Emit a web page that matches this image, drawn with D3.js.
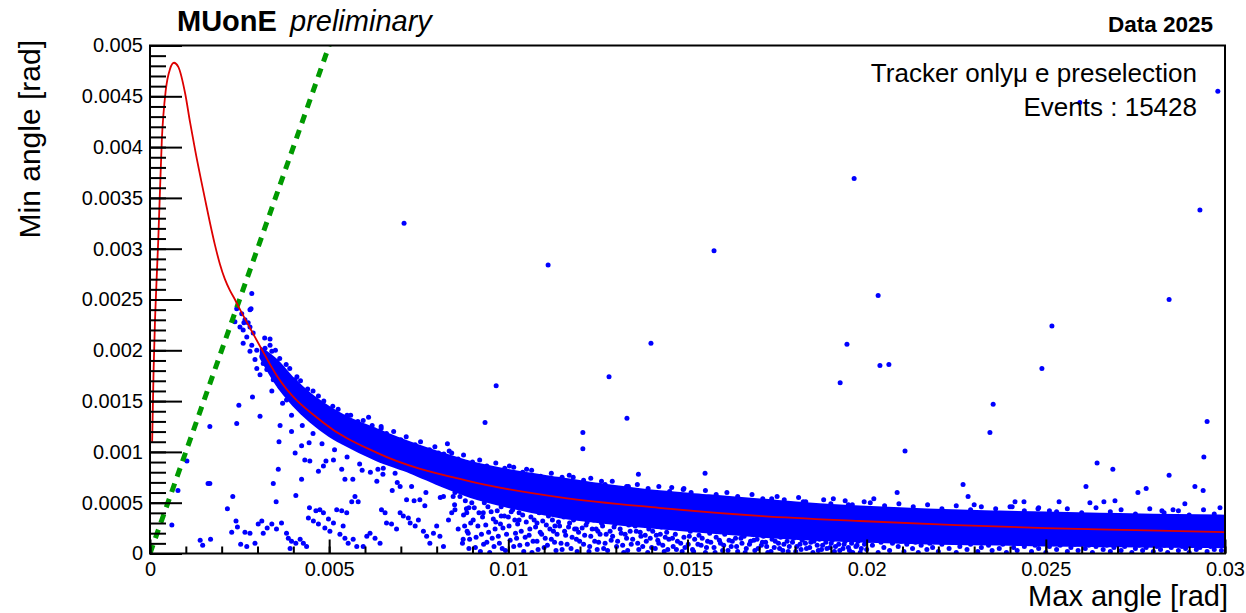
<!DOCTYPE html>
<html><head><meta charset="utf-8">
<script src="https://cdn.jsdelivr.net/npm/d3@7"></script>
<style>body{margin:0;background:#fff}svg{display:block}</style>
</head><body><svg id="c" width="1246" height="613"></svg>
<script>
// ---- data (angles in mrad unless noted; MRAD converts to rad) ----
const MRAD = 1e-3;
const xTickValues = [0, 0.005, 0.01, 0.015, 0.02, 0.025, 0.03];
const xTickLabels = ["0", "0.005", "0.01", "0.015", "0.02", "0.025", "0.03"];
const yTickValues = [0, 0.0005, 0.001, 0.0015, 0.002, 0.0025, 0.003, 0.0035, 0.004, 0.0045, 0.005];
const yTickLabels = ["0", "0.0005", "0.001", "0.0015", "0.002", "0.0025", "0.003", "0.0035", "0.004", "0.0045", "0.005"];

// elastic-scattering correlation curve (red)
const curvePts = [[0.06,1.10],[0.10,1.80],[0.14,2.30],[0.18,2.66],[0.23,3.08],[0.33,4.07],[0.44,4.56],[0.56,4.77],[0.67,4.83],[0.79,4.79],[0.98,4.53],[1.12,4.24],[1.26,3.97],[1.54,3.48],[1.67,3.26],[1.81,3.04],[1.95,2.85],[2.09,2.70],[2.23,2.59],[2.37,2.50],[2.47,2.43],[2.79,2.22],[3.07,2.04],[3.54,1.75],[4.83,1.29],[6.34,0.99],[8.93,0.71],[11.5,0.55],[14.2,0.45],[17.0,0.37],[19.8,0.32],[22.5,0.28],[25.0,0.25],[27.5,0.23],[30.0,0.21]];
// theta_min = theta_max line (green)
const diagPts = [[0,0],[5,5]];

// dense band of events: x, upper edge, lower edge
const bandX  = [3.1, 3.54, 4.0, 4.47, 5.0, 5.39, 6.33, 7.26, 8.18, 8.93, 10.0, 11.44, 12.8, 14.23, 15.6, 17.02, 18.4, 19.81, 21.7, 23.72, 25.0, 26.51, 28.0, 30.0];
const bandHi = [2.02, 1.90, 1.72, 1.57, 1.44, 1.36, 1.22, 1.09, 0.98, 0.90, 0.82, 0.74, 0.67, 0.61, 0.57, 0.53, 0.49, 0.46, 0.43, 0.41, 0.40, 0.39, 0.38, 0.37];
const bandLo = [1.92, 1.66, 1.46, 1.30, 1.16, 1.08, 0.92, 0.80, 0.66, 0.56, 0.46, 0.36, 0.30, 0.25, 0.21, 0.17, 0.14, 0.12, 0.10, 0.09, 0.08, 0.075, 0.07, 0.065];

const outlierPts = [[7.09,3.25],[11.11,2.84],[15.74,2.98],[19.65,3.69],[29.3,3.38],[29.8,4.55],[25.95,4.44],[20.32,2.54],[28.44,2.50],[25.17,2.24],[13.98,2.07],[19.45,2.06],[20.37,1.85],[20.62,1.86],[24.89,1.82],[12.81,1.74],[19.26,1.68],[9.66,1.65],[23.53,1.47],[13.31,1.33],[9.35,1.29],[29.5,1.30],[23.44,1.19],[12.08,1.19],[12.08,1.03],[21.07,1.01],[20.85,0.60],[22.69,0.68],[22.83,0.56],[23.0,0.48],[26.12,0.66],[26.43,0.89],[26.87,0.83],[28.44,0.77],[27.57,0.60],[27.80,0.64],[29.16,0.66],[29.39,0.62],[29.41,0.95],[29.86,0.45]];

const aboveBandPts = [[10.03,0.86],[10.51,0.83],[11.81,0.75],[12.6,0.71],[13.63,0.78],[13.35,0.66],[14.56,0.65],[14.88,0.63],[15.49,0.79],[17.35,0.54],[18.23,0.51],[19.07,0.54],[19.49,0.48],[19.93,0.51],[20.2,0.54],[24.14,0.51],[24.39,0.51],[25.37,0.51],[26.23,0.50],[26.62,0.51],[26.93,0.52],[28.88,0.49],[24.06,0.46],[24.78,0.44],[25.1,0.42],[28.24,0.42],[28.55,0.43],[6.45,1.23],[8.30,1.08],[7.16,1.06],[8.42,0.99],[8.05,0.99]];

const bandEdgePts = [[3.2,2.12],[3.5,2.0],[3.8,1.86],[4.1,1.74],[4.4,1.62],[4.7,1.55],[5.1,1.45],[5.5,1.36],[5.8,1.30],[6.2,1.26],[6.6,1.18],[7.0,1.12],[7.4,1.07],[7.8,1.02],[8.2,0.98],[8.6,0.93],[9.0,0.90],[9.4,0.86],[9.9,0.84],[10.4,0.80],[10.9,0.76],[11.5,0.75],[12.1,0.72],[12.7,0.68],[13.3,0.66],[13.9,0.64],[14.5,0.61],[15.1,0.60],[15.8,0.58],[16.4,0.56],[17.1,0.54],[17.7,0.53],[18.3,0.51],[19.0,0.49],[19.6,0.48],[20.5,0.47],[21.3,0.46],[22.1,0.44],[22.9,0.43],[23.6,0.44],[24.4,0.42],[25.3,0.41],[26.0,0.40],[26.8,0.41],[27.5,0.39],[28.3,0.40],[29.0,0.38],[29.7,0.39]];

const bandFuzzHiPts = [[3.35,2.05],[3.62,1.92],[3.9,1.82],[4.2,1.70],[4.55,1.60],[4.85,1.50],[5.25,1.42],[5.6,1.36],[5.95,1.31],[6.1,1.34],[6.45,1.25],[6.8,1.20],[7.15,1.15],[7.55,1.10],[7.95,1.05],[8.35,1.01],[8.75,0.97],[9.2,0.92],[9.65,0.89],[10.15,0.85],[10.65,0.82],[11.2,0.79],[11.7,0.77],[12.3,0.74],[12.9,0.71],[13.6,0.68],[14.2,0.66],[14.9,0.64],[15.5,0.62],[16.1,0.60],[16.8,0.58],[17.5,0.56],[18.1,0.55],[18.8,0.53],[19.4,0.52],[20.1,0.50],[20.9,0.49],[21.7,0.48],[22.5,0.47],[23.2,0.46],[24.0,0.46],[24.8,0.45],[25.6,0.44],[26.4,0.45],[27.1,0.43],[27.9,0.44],[28.7,0.42],[29.4,0.43]];

const bandFuzzLoPts = [[3.4,1.60],[3.7,1.48],[3.95,1.36],[4.25,1.26],[4.55,1.18],[4.8,1.08],[5.15,1.02],[5.5,0.95],[5.85,0.88],[6.15,0.80],[6.5,0.78],[6.9,0.70],[7.3,0.66],[7.7,0.60],[8.1,0.55],[8.5,0.48],[8.9,0.45],[9.3,0.40],[9.8,0.37],[10.3,0.33],[10.8,0.30],[11.3,0.27],[11.9,0.24],[12.5,0.22]];

const bandStartPts = [[2.42,2.41],[2.56,2.36],[2.65,2.30],[2.74,2.27],[2.60,2.20],[2.79,2.23],[2.70,2.13],[2.88,2.17],[2.60,2.07],[2.84,2.05],[2.98,2.00],[2.79,1.99],[2.93,1.91],[2.98,1.82],[3.16,1.87],[3.26,1.81],[3.07,1.76],[3.44,1.71],[3.63,1.64],[3.81,1.51],[4.05,1.71],[3.53,1.89],[3.40,1.99],[3.21,2.02],[2.37,2.28],[2.51,2.23],[3.12,1.94],[2.84,2.56],[2.79,2.40],[3.35,2.11],[2.82,2.41],[2.62,2.27]];

const lowLeftPts = [[2.86,1.54],[2.48,1.46],[3.07,1.35],[2.42,1.28],[1.67,1.25],[3.63,1.26],[3.60,1.10],[3.95,1.20],[4.05,0.99],[4.23,1.06],[4.44,1.09],[4.32,0.92],[4.46,0.91],[4.70,0.81],[4.91,0.91],[4.84,0.86],[5.12,0.92],[5.35,0.83],[5.44,0.73],[5.66,0.73],[5.92,0.82],[6.36,0.83],[6.33,0.71],[6.84,0.79],[6.76,0.62],[3.58,0.83],[3.44,0.69],[4.23,0.73],[4.07,0.57],[3.52,0.51],[2.31,0.56],[2.16,0.44],[1.67,0.69],[1.03,0.91],[0.78,0.62],[1.62,0.69],[0.61,0.28],[1.40,0.13],[1.47,0.08],[1.69,0.14],
[2.40,0.32],[2.44,0.26],[2.28,0.21],[2.65,0.21],[2.79,0.20],[2.53,0.09],[2.70,0.07],[2.93,0.10],[3.12,0.32],[3.02,0.29],[3.16,0.20],[3.27,0.25],[3.40,0.29],[3.53,0.24],[3.67,0.30],[3.81,0.20],[3.86,0.15],[3.95,0.12],[4.07,0.10],[4.19,0.14],[4.28,0.10],[4.37,0.07],[3.91,0.05],[4.45,0.45],[4.63,0.42],[4.74,0.43],[4.84,0.40],[4.42,0.35],[4.56,0.32],[4.70,0.29],[4.88,0.25],[5.02,0.22],[4.98,0.34],[5.12,0.30],[5.21,0.43],[5.35,0.42],[5.49,0.40],[5.63,0.51],[5.72,0.56],[5.81,0.51],[5.39,0.27],[5.30,0.19],[5.44,0.15],[5.53,0.10],[5.67,0.14],[5.77,0.07],[5.95,0.07],[6.05,0.17],[6.14,0.20],[6.28,0.15],[6.42,0.10],[6.46,0.43],[6.56,0.40],[6.60,0.30],[6.74,0.29],[6.88,0.24],[6.98,0.40],[7.07,0.37],[7.21,0.35],[7.26,0.30],[7.40,0.27],[7.49,0.33],[7.63,0.22],[7.72,0.17],[7.81,0.10],[7.91,0.20],[8.00,0.27],[8.09,0.17],[8.19,0.07],[8.33,0.33],[8.42,0.40],[8.51,0.43],[8.60,0.24],[8.74,0.14],[8.84,0.40],[8.88,0.20],[7.37,0.52],[7.53,0.53],[7.67,0.47],[7.16,0.53],[6.98,0.66],[6.51,0.84],[8.19,0.69],[8.46,0.56],[8.65,0.56],[8.74,0.66],[8.51,0.60],[8.19,0.56]];

const lowMidPts = [[8.72,0.10],[8.75,0.38],[8.8,0.52],[8.85,0.22],[8.9,0.05],[8.95,0.30],[9.05,0.45],[9.1,0.16],[9.15,0.27],[9.22,0.02],[9.28,0.36],[9.33,0.50],[9.4,0.11],[9.45,0.21],[9.52,0.41],[9.6,0.07],[9.65,0.31],[9.72,0.17],[9.8,0.46],[9.85,0.25],[9.92,0.03],[10.0,0.36],[10.05,0.13],[10.12,0.43],[10.2,0.20],[10.26,0.29],[10.32,0.08],[10.4,0.38],[10.47,0.16],[10.55,0.44],[10.6,0.24],[10.66,0.01],[10.72,0.33],[10.8,0.12],[10.86,0.40],[10.93,0.19],[11.0,0.06],[11.06,0.28],[11.12,0.37],[11.2,0.14],[11.26,0.22],[11.33,0.03],[11.4,0.31],[11.47,0.10],[11.55,0.36],[11.6,0.18],[11.68,0.26],[11.75,0.05],[11.82,0.33],[11.9,0.14],[11.96,0.21],[12.03,0.37],[12.1,0.09],[12.17,0.28],[12.25,0.02],[12.3,0.17],[12.38,0.33],[12.45,0.24],[12.52,0.11],[12.6,0.30],[12.66,0.05],[12.73,0.19],[12.8,0.34],[12.87,0.13],[12.95,0.26],[13.02,0.07],[13.08,0.31],[13.15,0.20],[13.22,0.01],[13.3,0.15],[13.36,0.28],[13.43,0.09],[13.5,0.33],[13.57,0.22],[13.64,0.04],[13.7,0.17],[13.78,0.29],[13.85,0.12],[13.92,0.24],[14.0,0.06],[14.06,0.31],[14.13,0.18],[14.2,0.10],[14.27,0.26],[14.35,0.02],[14.42,0.21],[14.48,0.14],
[14.55,0.29],[14.6,0.07],[14.66,0.19],[14.72,0.12],[14.78,0.25],[14.85,0.02],[14.9,0.16],[14.96,0.30],[15.02,0.09],[15.08,0.22],[15.14,0.04],[15.2,0.14],[15.26,0.27],[15.32,0.18],[15.38,0.08],[15.44,0.24],[15.5,0.01],[15.56,0.12],[15.62,0.20],[15.68,0.28],[15.74,0.06],[15.8,0.16],[15.86,0.23],[15.92,0.10],[15.98,0.03],[16.04,0.19],[16.1,0.26],[16.16,0.13],[16.22,0.07],[16.28,0.21],[16.34,0.15],[16.4,0.02],[16.46,0.24],[16.52,0.10],[16.58,0.17],[16.64,0.05],[16.7,0.22],[16.76,0.12],[16.82,0.19],[16.88,0.03],[16.94,0.14],[17.0,0.23],[17.06,0.08],[17.12,0.17],[17.18,0.11],[17.24,0.01],[17.3,0.20],[17.36,0.14],[17.42,0.06],[17.48,0.22],[17.54,0.10],[17.6,0.16],[17.66,0.03],[17.72,0.19],[17.78,0.12],[17.84,0.07],[17.9,0.21],[17.96,0.15],[18.02,0.02],[18.08,0.18],[18.14,0.09],[18.2,0.13],[18.26,0.20],[18.32,0.05],[18.38,0.16],[18.44,0.11],[18.5,0.01],[18.56,0.18],[18.62,0.08],[18.68,0.14],[18.74,0.04],[18.8,0.19],[18.86,0.11],[18.92,0.16],[18.98,0.06],[19.04,0.13],[19.1,0.02],[19.16,0.18],[19.22,0.09],[19.28,0.15],[19.34,0.05],[19.4,0.12],[19.46,0.17],[19.52,0.03],[19.58,0.10],[19.64,0.15],[19.7,0.07],[19.76,0.12],[19.82,0.01],[19.88,0.16],[19.94,0.09]];

const lowMid2Pts = [[8.78,0.27],[8.83,0.44],[8.92,0.14],[8.98,0.50],[9.02,0.33],[9.08,0.06],[9.18,0.40],[9.25,0.19],[9.31,0.09],[9.37,0.28],[9.43,0.46],[9.48,0.01],[9.55,0.15],[9.58,0.34],[9.63,0.24],[9.69,0.42],[9.75,0.10],[9.78,0.29],[9.83,0.05],[9.89,0.37],[9.95,0.19],[10.02,0.27],[10.08,0.41],[10.15,0.07],[10.18,0.33],[10.23,0.15],[10.3,0.40],[10.36,0.22],[10.43,0.02],[10.5,0.31],[10.53,0.09],[10.58,0.18],[10.63,0.36],[10.69,0.12],[10.76,0.26],[10.83,0.04],[10.89,0.21],[10.96,0.32],[11.03,0.15],[11.09,0.08],[11.16,0.24],[11.23,0.33],[11.29,0.11],[11.36,0.19],[11.43,0.27],[11.5,0.04],[11.57,0.22],[11.64,0.09],[11.71,0.30],[11.78,0.16],[11.85,0.24],[11.92,0.02],[11.99,0.12],[12.06,0.25],[12.13,0.18],[12.2,0.31],[12.27,0.07],[12.34,0.24],[12.41,0.12],[12.48,0.04],[12.56,0.19],[12.63,0.27],[12.7,0.10],[12.77,0.03],[12.84,0.22],[12.91,0.17],[12.98,0.29],[13.05,0.12],[13.12,0.24],[13.19,0.08],[13.26,0.19],[13.33,0.03],[13.4,0.22],[13.47,0.14],[13.54,0.27],[13.61,0.10],[13.68,0.21],[13.75,0.07],[13.82,0.18],[13.89,0.01],[13.96,0.15],[14.03,0.22],[14.1,0.05],[14.17,0.13],[14.24,0.19],[14.31,0.08],[14.38,0.16],[14.45,0.04],
[14.58,0.15],[14.69,0.04],[14.81,0.10],[14.93,0.06],[15.05,0.17],[15.17,0.02],[15.29,0.09],[15.41,0.15],[15.53,0.06],[15.65,0.11],[15.77,0.01],[15.89,0.13],[16.01,0.08],[16.13,0.03],[16.25,0.12],[16.37,0.07],[16.49,0.15],[16.61,0.01],[16.73,0.09],[16.85,0.13],[16.97,0.05],[17.09,0.11],[17.21,0.07],[17.33,0.02],[17.45,0.12],[17.57,0.05],[17.69,0.09],[17.81,0.02],[17.93,0.11],[18.05,0.07],[18.17,0.04],[18.29,0.10],[18.41,0.06],[18.53,0.12],[18.65,0.03],[18.77,0.08],[18.89,0.05],[19.01,0.10],[19.13,0.07],[19.25,0.03],[19.37,0.09],[19.49,0.06],[19.61,0.01],[19.73,0.08],[19.85,0.05],[19.97,0.11]];

const lowRightPts = [[20.0,0.04],[20.08,0.13],[20.16,0.08],[20.24,0.16],[20.32,0.01],[20.4,0.11],[20.48,0.06],[20.56,0.14],[20.64,0.03],[20.72,0.10],[20.8,0.15],[20.88,0.07],[20.96,0.12],[21.04,0.02],[21.12,0.09],[21.2,0.14],[21.28,0.05],[21.36,0.11],[21.44,0.01],[21.52,0.08],[21.6,0.13],[21.68,0.04],[21.76,0.10],[21.84,0.06],[21.92,0.12],[22.0,0.02],[22.1,0.09],[22.2,0.13],[22.3,0.05],[22.4,0.11],[22.5,0.01],[22.6,0.07],[22.7,0.12],[22.8,0.04],[22.9,0.09],[23.0,0.13],[23.1,0.02],[23.2,0.06],[23.3,0.11],[23.4,0.08],[23.5,0.03],[23.6,0.12],[23.7,0.05],[23.8,0.09],[23.9,0.01],[24.0,0.11],[24.1,0.06],[24.2,0.03],[24.3,0.10],[24.4,0.07],[24.5,0.12],[24.6,0.02],[24.7,0.08],[24.8,0.05],[24.9,0.11],[25.0,0.01],[25.1,0.07],[25.2,0.10],[25.3,0.04],[25.4,0.08],[25.5,0.11],[25.6,0.02],[25.7,0.06],[25.8,0.09],[25.9,0.03],[26.0,0.10],[26.1,0.05],[26.2,0.08],[26.3,0.01],[26.4,0.07],[26.5,0.10],[26.6,0.04],[26.7,0.08],[26.8,0.02],[26.9,0.06],[27.0,0.09],[27.1,0.03],[27.2,0.07],[27.3,0.10],[27.4,0.01],[27.5,0.05],[27.6,0.08],[27.7,0.03],[27.8,0.06],[27.9,0.09],[28.0,0.02],[28.1,0.07],[28.2,0.04],[28.3,0.08],[28.4,0.01],[28.5,0.06],[28.6,0.09],[28.7,0.03],[28.8,0.07],[28.9,0.05],[29.0,0.01],[29.1,0.08],[29.2,0.04],[29.3,0.06],[29.4,0.09],[29.5,0.02],[29.6,0.07],[29.7,0.04],[29.8,0.08],[29.9,0.03]];

const legendLines = ["Tracker only\u03bc e preselection", "Events : 15428"];

// ---- drawing ----
const FONT = "'Liberation Sans', Arial, Helvetica, sans-serif";
const svg = d3.select("#c");
const L = 150, R = 1225, T = 45.5, B = 553.5;
const x = d3.scaleLinear().domain([0, 0.03]).range([L, R]);
const y = d3.scaleLinear().domain([0, 0.005]).range([B, T]);

svg.append("defs").append("clipPath").attr("id", "clip")
  .append("rect").attr("x", L).attr("y", T).attr("width", R - L).attr("height", B - T);
const plot = svg.append("g").attr("clip-path", "url(#clip)");
const BLUE = "#0000ff";

// dense band
const band = bandX.map((v, i) => [v, bandHi[i], bandLo[i]]);
plot.append("path").datum(band)
  .attr("d", d3.area().x(d => x(d[0] * MRAD)).y0(d => y(d[2] * MRAD)).y1(d => y(d[1] * MRAD)).curve(d3.curveMonotoneX))
  .attr("fill", BLUE).attr("stroke", BLUE).attr("stroke-width", 2.5).attr("stroke-linejoin", "round");

const allPts = [].concat(outlierPts, aboveBandPts, bandEdgePts, bandFuzzHiPts, bandFuzzLoPts, bandStartPts, lowLeftPts, lowMidPts, lowMid2Pts, lowRightPts);
plot.append("g").selectAll("circle").data(allPts).join("circle")
  .attr("cx", d => x(d[0] * MRAD)).attr("cy", d => y(d[1] * MRAD)).attr("r", 2.5).attr("fill", BLUE);

// green diagonal
plot.append("path").datum(diagPts)
  .attr("d", d3.line().x(d => x(d[0] * MRAD)).y(d => y(d[1] * MRAD)))
  .attr("fill", "none").attr("stroke", "#009a00").attr("stroke-width", 5).attr("stroke-dasharray", "9,7.3");

// red curve
plot.append("path").datum(curvePts)
  .attr("d", d3.line().x(d => x(d[0] * MRAD)).y(d => y(d[1] * MRAD)).curve(d3.curveMonotoneX))
  .attr("fill", "none").attr("stroke", "#dd0000").attr("stroke-width", 1.8);

// axes
function styleAxis(g) {
  g.select(".domain").remove();
  g.selectAll("line").attr("stroke", "#000").attr("stroke-width", 2);
  g.selectAll("text").attr("font-family", FONT).attr("font-size", 20).attr("fill", "#000");
}
const xMinor = d3.range(0, 31).map(i => i * 0.001);
const yMinor = d3.range(0, 51).map(i => i * 0.0001);
svg.append("g").attr("transform", `translate(0,${B})`)
  .call(d3.axisBottom(x).tickValues(xMinor).tickSize(-7).tickFormat(""))
  .call(styleAxis);
svg.append("g").attr("transform", `translate(0,${B})`)
  .call(d3.axisBottom(x).tickValues(xTickValues).tickSize(-14).tickPadding(8).tickFormat((d, i) => xTickLabels[i]))
  .call(styleAxis);
svg.append("g").attr("transform", `translate(${L},0)`)
  .call(d3.axisLeft(y).tickValues(yMinor).tickSize(-16).tickFormat(""))
  .call(styleAxis);
svg.append("g").attr("transform", `translate(${L},0)`)
  .call(d3.axisLeft(y).tickValues(yTickValues).tickSize(-32).tickPadding(7).tickFormat((d, i) => yTickLabels[i]))
  .call(styleAxis);

// frame
svg.append("rect").attr("x", L).attr("y", T).attr("width", R - L).attr("height", B - T)
  .attr("fill", "none").attr("stroke", "#000").attr("stroke-width", 2);

// titles
svg.append("text").attr("x", 1228).attr("y", 606).attr("text-anchor", "end")
  .attr("font-family", FONT).attr("font-size", 29).text("Max angle [rad]");
svg.append("text").attr("transform", "translate(40,40) rotate(-90)").attr("text-anchor", "end")
  .attr("font-family", FONT).attr("font-size", 30).text("Min angle [rad]");
svg.append("text").attr("x", 177).attr("y", 31).attr("font-family", FONT).attr("font-size", 29)
  .attr("font-weight", "bold").text("MUonE");
svg.append("text").attr("x", 290).attr("y", 31).attr("font-family", FONT).attr("font-size", 29)
  .attr("font-style", "italic").text("preliminary");
svg.append("text").attr("x", 1213).attr("y", 32).attr("text-anchor", "end").attr("font-family", FONT)
  .attr("font-size", 22.5).attr("font-weight", "bold").text("Data 2025");
legendLines.forEach((t, i) => {
  svg.append("text").attr("x", 1197).attr("y", 82 + i * 34).attr("text-anchor", "end")
    .attr("font-family", FONT).attr("font-size", 26).text(t);
});
</script></body></html>
